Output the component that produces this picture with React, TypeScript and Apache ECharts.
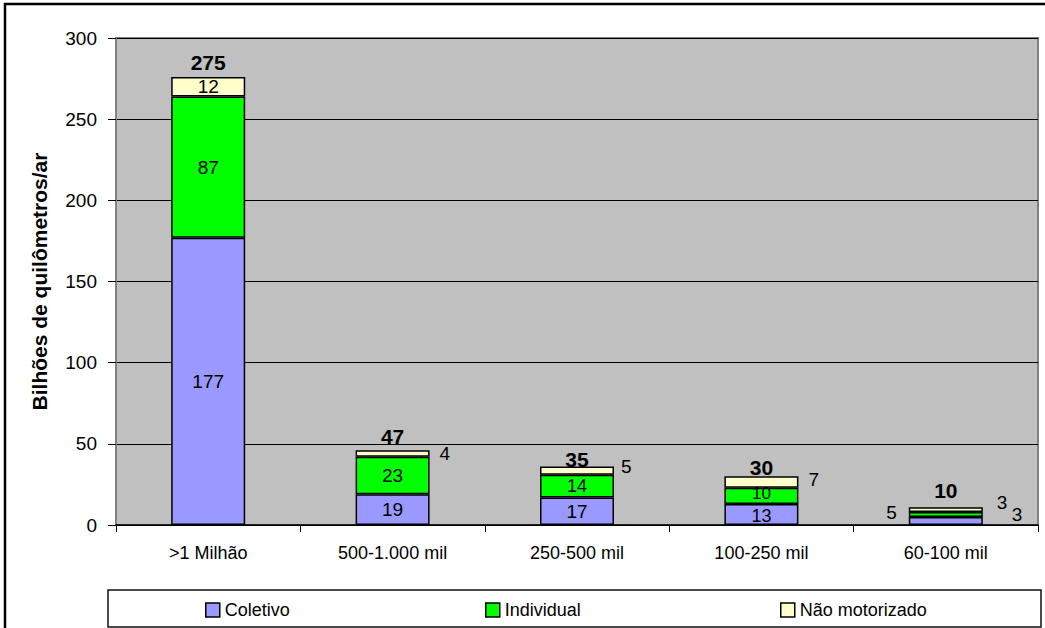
import React, { useEffect, useRef } from "react";
import * as echarts from "echarts";

const categories = [">1 Milhão", "500-1.000 mil", "250-500 mil", "100-250 mil", "60-100 mil"];
const coletivo = [177, 19, 17, 13, 5];
const individual = [87, 23, 14, 10, 3];
const naoMotorizado = [12, 4, 5, 7, 3];
const totais = [275, 47, 35, 30, 10];
const seriesNames = ["Coletivo", "Individual", "Não motorizado"];
const yMin = 0;
const yMax = 300;
const yInterval = 50;

const FONT = '"Liberation Sans", Arial, sans-serif';

// per-item label placement (styling only)
const coletivoLabelCfg: Record<number, any> = {
  3: { offset: [0, 2], fontSize: 18 },
  4: { position: "left", distance: 12, offset: [0, -8] },
};
const individualLabelCfg: Record<number, any> = {
  2: { fontSize: 18 },
  3: { offset: [0, -2], fontSize: 17 },
  4: { position: "right", distance: 29, offset: [0, 0] },
};
const naoLabelCfg: Record<number, any> = {
  1: { position: "right", distance: 10, offset: [0, 0] },
  2: { position: "right", distance: 7, offset: [0, -4] },
  3: { position: "right", distance: 10, offset: [0, -2] },
  4: { position: "right", distance: 14, offset: [0, -7] },
};
const totalDistances = [5, 1, -2, -2, 7];

function buildData(values: number[], cfg: Record<number, any>) {
  return values.map((v, i) =>
    cfg[i] ? { value: v, label: { ...cfg[i] } } : { value: v }
  );
}

export default function App() {
  const ref = useRef<HTMLDivElement>(null);

  useEffect(() => {
    if (!ref.current) return;
    const chart = echarts.init(ref.current, undefined, { renderer: "svg" });

    const barBase = {
      type: "bar",
      stack: "total",
      barWidth: 74,
      itemStyle: { borderColor: "#000", borderWidth: 1.5 },
      label: {
        show: true,
        position: "inside",
        color: "#000",
        fontSize: 19,
        fontFamily: FONT,
      },
    };
    const colors = ["#9999FF", "#00FF00", "#FFFFCC"];

    const option: any = {
      animation: false,
      backgroundColor: "#fff",
      textStyle: { fontFamily: FONT },
      grid: {
        left: 116,
        right: 7,
        top: 38,
        bottom: 103,
        show: true,
        backgroundColor: "#C0C0C0",
        borderColor: "#808080",
        borderWidth: 2,
        containLabel: false,
      },
      legend: seriesNames.map((n, i) => ({
        data: [n],
        left: [205, 485, 780][i],
        top: 601,
        itemWidth: 14,
        itemHeight: 14,
        itemStyle: { borderColor: "#000", borderWidth: 1.5 },
        textStyle: { fontSize: 18, color: "#000", fontFamily: FONT },
        selectedMode: false,
        icon: "rect",
        padding: 0,
      })),
      xAxis: {
        type: "category",
        data: categories,
        axisLine: { show: true, lineStyle: { color: "#000", width: 1.5 } },
        axisTick: { show: true, length: 7, lineStyle: { color: "#000", width: 1 } },
        axisLabel: { color: "#000", fontSize: 18, margin: 19, fontFamily: FONT },
        splitLine: { show: false },
      },
      yAxis: {
        type: "value",
        min: yMin,
        max: yMax,
        interval: yInterval,
        name: "Bilhões de quilômetros/ar",
        nameLocation: "middle",
        nameGap: 66,
        nameTextStyle: { fontSize: 21, fontWeight: "bold", color: "#000", fontFamily: FONT },
        axisLine: { show: true, lineStyle: { color: "#808080", width: 2 } },
        axisTick: { show: true, length: 8, lineStyle: { color: "#000", width: 1 } },
        axisLabel: { color: "#000", fontSize: 19, margin: 19, fontFamily: FONT },
        splitLine: { show: true, lineStyle: { color: "#000", width: 1 } },
      },
      series: [
        {
          ...barBase,
          name: seriesNames[0],
          data: buildData(coletivo, coletivoLabelCfg),
          itemStyle: { ...barBase.itemStyle, color: colors[0] },
        },
        {
          ...barBase,
          name: seriesNames[1],
          data: buildData(individual, individualLabelCfg),
          itemStyle: { ...barBase.itemStyle, color: colors[1] },
        },
        {
          ...barBase,
          name: seriesNames[2],
          data: buildData(naoMotorizado, naoLabelCfg),
          itemStyle: { ...barBase.itemStyle, color: colors[2] },
        },
        {
          type: "scatter",
          name: "Total",
          symbolSize: 1,
          itemStyle: { color: "rgba(0,0,0,0)" },
          data: totais.map((v, i) => ({
            value: v,
            label: { distance: totalDistances[i] },
          })),
          label: {
            show: true,
            position: "top",
            color: "#000",
            opacity: 1,
            textBorderWidth: 0,
            fontSize: 21,
            fontWeight: "bold",
            fontFamily: FONT,
          },
          z: 5,
        },
      ],
      graphic: [
        {
          type: "rect",
          shape: { x: 5, y: 4, width: 1100, height: 700 },
          style: { fill: "none", stroke: "#000", lineWidth: 2.5 },
          silent: true,
        },
        {
          type: "rect",
          shape: { x: 108, y: 590, width: 933, height: 37 },
          style: { fill: "none", stroke: "#111", lineWidth: 1.5 },
          silent: true,
        },
      ],
    };

    chart.setOption(option);
    return () => chart.dispose();
  }, []);

  return (
    <div
      ref={ref}
      style={{ position: "fixed", left: 0, top: 0, width: 1045, height: 628, background: "#fff" }}
    />
  );
}
